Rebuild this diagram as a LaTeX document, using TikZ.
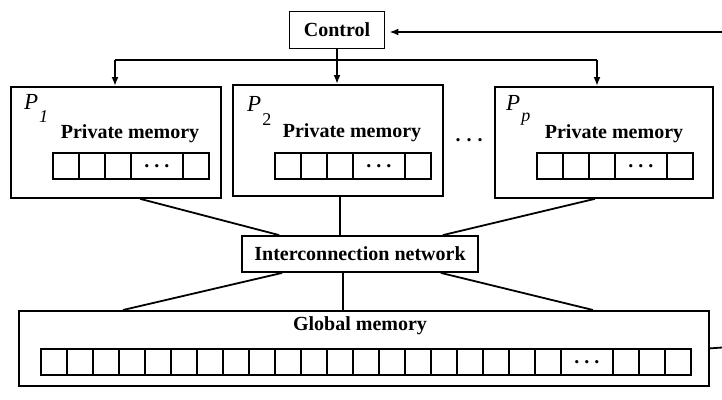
\documentclass[tikz,border=0pt]{standalone}
\usepackage{fontspec}
\setmainfont{Liberation Serif}
\usetikzlibrary{arrows.meta,calc}
\begin{document}
\begin{tikzpicture}[x=1pt,y=-1pt,
  box/.style={draw,line width=1.8pt,inner sep=0pt},
  lbl/.style={font=\fontsize{20}{22}\selectfont\bfseries,inner sep=0pt},
  pname/.style={font=\fontsize{23}{23}\selectfont\itshape,inner sep=0pt,anchor=base west},
  subs/.style={},
  cell/.style={draw,line width=1.6pt,minimum width=26pt,minimum height=26pt,inner sep=0pt,anchor=north west},
  wcell/.style={cell,minimum width=52pt},
  arr/.style={line width=1.8pt,-{Latex[length=9pt,width=7pt]}},
  conn/.style={line width=1.8pt}]
\useasboundingbox (0,0) rectangle (722,399);

% Control
\node[box,lbl,minimum width=95pt,minimum height=37pt] (ctl) at (337,30) {Control};

% Processors
\node[box,minimum width=210pt,minimum height=111pt,anchor=north west] (P1) at (10,86) {};
\node[box,minimum width=210pt,minimum height=111pt,anchor=north west] (P2) at (232,84) {};
\node[box,minimum width=218pt,minimum height=111pt,anchor=north west] (Pp) at (494,86) {};

\node[pname] (P1n) at (24,109) {P\hspace{1pt}\raisebox{-13pt}{\fontsize{18}{18}\selectfont 1}};
\node[pname] (P2n) at (247,111) {P\hspace{1pt}\raisebox{-14pt}{\fontsize{18}{18}\selectfont\upshape 2}};
\node[pname] (Ppn) at (506,110) {P\hspace{1pt}\raisebox{-11pt}{\fontsize{18}{18}\selectfont p}};

\node[lbl] (P1t) at (130,134) {Private memory};
\node[lbl] (P2t) at (352,133) {Private memory};
\node[lbl] (Ppt) at (614,134) {Private memory};

% private memory cells
\foreach \nm/\x in {a/52,b/274,c/536}{
  \node[cell] (\nm1) at (\x,152) {};
  \node[cell] (\nm2) at (\x+26,152) {};
  \node[cell] (\nm3) at (\x+52,152) {};
  \node[wcell] (\nm4) at (\x+78,152) {};
  \node[lbl] (\nm d) at (\nm4.center) {.\hspace{5pt}.\hspace{5pt}.};
  \node[cell] (\nm5) at (\x+130,152) {};
}

\node[lbl] (dots) at (469,140) {.\hspace{6pt}.\hspace{6pt}.};

% Control connections
\coordinate (fR) at (722,32);
\draw[arr,shorten >=4pt] (fR) -- (ctl.east |- fR);
\draw[arr] (ctl.south) -- (P2.north -| ctl.south);
\coordinate (dL) at (115,60);
\coordinate (dR) at (597,60);
\draw[conn] (dL) -- (dR);
\draw[arr] (dL) -- (P1.north -| dL);
\draw[arr] (dR) -- (Pp.north -| dR);

% Interconnection network
\node[box,lbl,minimum width=236pt,minimum height=36pt] (ic) at (360,254) {Interconnection network};

\draw[conn] ($(P1.south west)+(130,0)$) -- ($(ic.north west)+(38,0)$);
\draw[conn] (P2.south -| 340,0) -- (ic.north -| 340,0);
\draw[conn] ($(Pp.south west)+(101,0)$) -- ($(ic.north east)+(-36,0)$);

% Global memory
\node[box,minimum width=690pt,minimum height=75pt,anchor=north west] (gm) at (18,310) {};
\node[lbl] (gmt) at (360,326) {Global memory};

\draw[conn] ($(ic.south west)+(41,0)$) -- ($(gm.north west)+(105,0)$);
\draw[conn] (ic.south -| 343,0) -- (gm.north -| 343,0);
\draw[conn] ($(ic.south east)+(-38,0)$) -- ($(gm.north west)+(575,0)$);

\foreach \i in {0,...,19}{
  \node[cell] (g\i) at (40+26*\i,348) {};
}
\node[wcell] (gdot) at (560,348) {};
\node[lbl] (gd) at (gdot.center) {.\hspace{5pt}.\hspace{5pt}.};
\foreach \i in {0,1,2}{
  \node[cell] (h\i) at (612+26*\i,348) {};
}

\coordinate (gR) at (722,347.5);
\draw[conn] (gm.east) -- (gR);
\end{tikzpicture}
\end{document}
